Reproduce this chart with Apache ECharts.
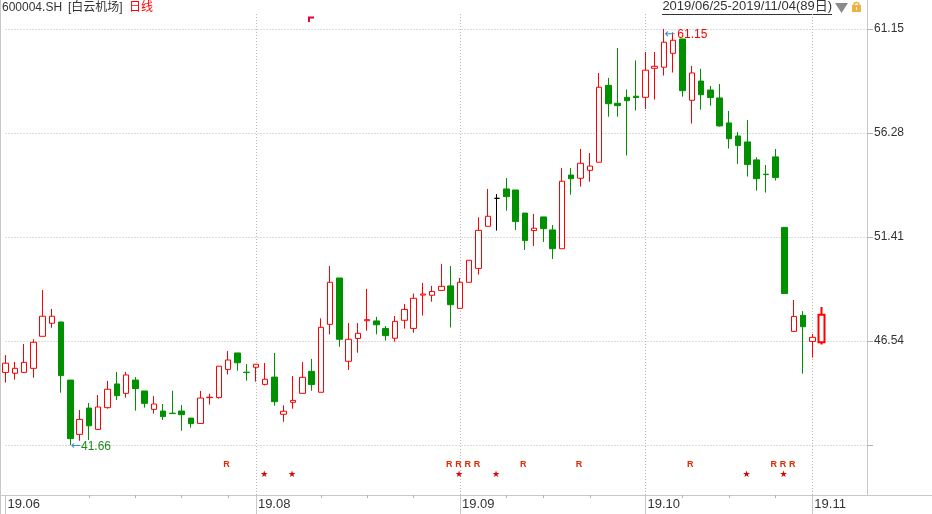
<!DOCTYPE html>
<html><head><meta charset="utf-8">
<script src="https://cdn.jsdelivr.net/npm/echarts@6/dist/echarts.min.js"></script>
<style>html,body{margin:0;padding:0;background:#fff;overflow:hidden}#c{width:932px;height:514px}</style>
</head><body><div id="c"></div>
<script>
// ---- data ----
const dates = [
 '2019-06-25','2019-06-26','2019-06-27','2019-06-28',
 '2019-07-01','2019-07-02','2019-07-03','2019-07-04','2019-07-05','2019-07-08','2019-07-09','2019-07-10','2019-07-11','2019-07-12',
 '2019-07-15','2019-07-16','2019-07-17','2019-07-18','2019-07-19','2019-07-22','2019-07-23','2019-07-24','2019-07-25','2019-07-26',
 '2019-07-29','2019-07-30','2019-07-31',
 '2019-08-01','2019-08-02','2019-08-05','2019-08-06','2019-08-07','2019-08-08','2019-08-09','2019-08-12','2019-08-13','2019-08-14',
 '2019-08-15','2019-08-16','2019-08-19','2019-08-20','2019-08-21','2019-08-22','2019-08-23','2019-08-26','2019-08-27','2019-08-28',
 '2019-08-29','2019-08-30',
 '2019-09-02','2019-09-03','2019-09-04','2019-09-05','2019-09-06','2019-09-09','2019-09-10','2019-09-11','2019-09-12','2019-09-16',
 '2019-09-17','2019-09-18','2019-09-19','2019-09-20','2019-09-23','2019-09-24','2019-09-25','2019-09-26','2019-09-27','2019-09-30',
 '2019-10-08','2019-10-09','2019-10-10','2019-10-11','2019-10-14','2019-10-15','2019-10-16','2019-10-17','2019-10-18','2019-10-21',
 '2019-10-22','2019-10-23','2019-10-24','2019-10-25','2019-10-28','2019-10-29','2019-10-30','2019-10-31',
 '2019-11-01','2019-11-04'
];
const opens = [
 45.07,45.03,45.07,45.26,46.76,47.37,47.43,44.71,42.17,43.40,
 42.40,43.42,44.53,44.09,44.71,44.20,43.34,43.26,43.16,43.26,
 42.93,42.68,43.89,43.89,45.21,45.98,45.08,45.31,44.51,44.85,
 43.11,43.67,44.09,45.12,44.14,47.32,49.49,45.59,46.66,47.49,
 47.48,47.13,46.67,47.51,47.13,48.69,48.68,48.91,49.12,48.07,
 49.29,49.94,51.91,53.22,53.66,53.61,52.53,51.71,52.35,51.74,
 50.86,54.31,54.16,54.53,54.91,58.51,57.67,57.95,58.00,57.95,
 59.31,59.36,60.01,60.68,57.81,58.71,58.29,57.92,56.75,56.14,
 55.86,55.02,54.35,55.16,51.86,46.99,47.74,46.52,46.48
];
const closes = [
 45.50,45.26,45.54,46.48,47.70,47.70,44.92,41.97,42.87,42.57,
 43.45,44.28,43.98,44.95,44.31,43.62,43.59,43.00,43.14,43.09,
 42.67,43.87,43.91,45.36,45.65,45.52,45.06,45.45,44.75,43.70,
 43.25,43.76,44.84,44.50,47.18,49.29,46.62,46.62,46.90,47.54,
 47.30,46.79,47.46,48.02,48.54,48.74,48.86,49.10,48.24,49.29,
 50.32,51.72,52.38,53.22,53.30,52.13,51.24,51.82,51.80,50.86,
 54.02,54.14,54.86,54.73,58.42,57.65,57.56,57.79,57.94,59.22,
 59.40,60.53,60.62,58.26,59.09,58.07,57.94,56.61,56.01,55.69,
 54.80,54.14,54.33,54.19,48.76,47.69,47.21,46.71,47.77
];
const lows = [
 44.59,44.73,45.07,44.82,46.76,47.16,44.12,41.66,41.87,41.90,
 42.40,43.37,43.78,43.89,43.28,43.42,43.14,42.84,43.14,42.34,
 42.48,42.68,43.56,43.84,44.97,45.15,44.68,44.64,44.46,43.51,
 42.76,43.37,44.09,44.21,44.14,46.85,46.27,45.18,45.99,47.02,
 46.85,46.56,46.51,47.12,46.93,47.73,48.38,48.91,47.17,48.07,
 49.29,49.65,51.91,51.71,52.64,51.74,50.80,50.99,51.18,50.38,
 50.86,53.39,53.77,54.00,54.91,57.04,57.04,55.22,57.33,57.40,
 57.84,58.97,59.11,57.98,56.72,57.37,57.56,56.58,55.55,54.83,
 54.24,53.58,53.49,54.05,48.76,46.99,45.01,45.76,46.38
];
const highs = [
 45.88,45.56,46.40,46.62,48.93,48.04,47.43,44.71,43.31,43.64,
 44.01,44.67,45.09,45.09,44.85,44.20,43.96,43.59,44.21,43.54,
 42.93,44.20,44.07,45.36,46.07,45.98,45.46,45.45,45.51,45.98,
 43.53,44.90,45.56,45.70,47.60,50.05,49.49,47.38,47.38,48.98,
 47.67,47.24,47.71,48.27,48.76,49.26,49.12,50.15,50.05,49.49,
 50.32,52.33,53.66,53.42,54.17,53.61,52.53,52.49,52.35,51.97,
 54.64,54.64,55.53,55.34,59.09,58.86,60.26,58.32,59.68,60.07,
 60.07,61.15,60.99,60.68,59.42,59.28,58.48,58.57,57.31,56.33,
 56.89,55.14,54.78,55.53,51.86,48.46,47.94,46.87,48.13
];
const xTickLabels = ['19.06','19.08','19.09','19.10','19.11'];
const yTickValues = [41.67, 46.54, 51.41, 56.28, 61.15];
const yLabelValues = [46.54, 51.41, 56.28, 61.15];
const yMin = 39.33, yMax = 61.85;
const rMarkIdx = [24, 48, 49, 50, 51, 56, 62, 74, 83, 84, 85];
const starMarkIdx = [28, 31, 49, 53, 80, 84];
const maxMark = { idx: 71, value: 61.15 };
const minMark = { idx: 7, value: 41.66 };
const padSlots = 5;

// ---- derived ----
const cats = dates.concat(new Array(padSlots).fill(''));
const monthStarts = [];
dates.forEach((d, i) => { if (i === 0 || d.slice(0, 7) !== dates[i - 1].slice(0, 7)) monthStarts.push(i); });
const labelIdx = {};
xTickLabels.forEach(l => {
  const key = '20' + l.slice(0, 2) + '-' + l.slice(3, 5);
  const i = dates.findIndex(d => d.slice(0, 7) === key);
  if (i >= 0) labelIdx[i] = l;
});
const weekTick = {};
dates.forEach((d, i) => {
  const dow = new Date(d + 'T00:00:00Z').getUTCDay();
  if (dow === 1 && !monthStarts.some(m => Math.abs(m - i) <= 2)) weekTick[i] = true;
});

const UP = '#ff0000', DOWN = '#009000';
const candleData = opens.map((o, i) => {
  const item = { value: [o, closes[i], lows[i], highs[i]] };
  if (o === closes[i]) item.itemStyle = { color: '#000', color0: '#000', borderColor: '#000', borderColor0: '#000' };
  if (i === opens.length - 1) item.itemStyle = Object.assign({}, item.itemStyle || {}, { borderWidth: 2 });
  return item;
});

const FONT = '"Liberation Sans","Noto Sans CJK SC",sans-serif';
const GRID_LEFT = 5.5, GRID_RIGHT = 64;

const chart = echarts.init(document.getElementById('c'), null, { renderer: 'canvas' });
chart.setOption({
  animation: false,
  backgroundColor: '#fff',
  textStyle: { fontFamily: FONT },
  grid: [
    { left: GRID_LEFT, right: GRID_RIGHT, top: 14, bottom: 19 },
    { left: GRID_LEFT, right: GRID_RIGHT, top: 460, height: 20 }
  ],
  xAxis: [
    {
      type: 'category', gridIndex: 0, data: cats, boundaryGap: false, position: 'bottom',
      axisLine: { show: false },
      axisTick: { show: true, length: 19, lineStyle: { color: '#c8c8c8' }, interval: (i) => labelIdx[i] !== undefined },
      axisLabel: {
        show: true, interval: (i) => labelIdx[i] !== undefined, formatter: (v, i) => labelIdx[i] || '',
        align: 'left', padding: [0, 0, 0, 2], margin: 3, fontSize: 13, color: '#333', fontFamily: FONT
      },
      splitLine: { show: true, interval: (i) => labelIdx[i] !== undefined && i !== 0, lineStyle: { color: '#b8b8b8', type: [1, 2] } }
    },
    {
      type: 'category', gridIndex: 0, data: cats, boundaryGap: false, position: 'bottom',
      axisLine: { show: false }, axisLabel: { show: false }, splitLine: { show: false },
      axisTick: { show: true, length: 3, lineStyle: { color: '#b0b0b0' }, interval: (i) => !!weekTick[i] }
    },
    {
      type: 'category', gridIndex: 1, data: cats, boundaryGap: false, show: false
    }
  ],
  yAxis: [
    {
      type: 'value', gridIndex: 0, position: 'right', min: yMin, max: yMax, scale: true,
      axisLine: { show: false },
      axisTick: { show: true, length: 5, customValues: yTickValues, lineStyle: { color: '#b0b0b0' } },
      axisLabel: { show: true, customValues: yLabelValues, margin: 6, fontSize: 12, color: '#333', fontFamily: FONT,
        formatter: v => v.toFixed(2) },
      splitLine: { show: true, lineStyle: { color: '#b8b8b8', type: [1, 2] } }
    },
    { type: 'category', gridIndex: 1, data: ['star', 'R'], show: false, boundaryGap: true }
  ],
  series: [
    {
      type: 'candlestick', xAxisIndex: 0, yAxisIndex: 0, barWidth: 6, clip: false,
      data: candleData,
      itemStyle: { color: '#fff', color0: DOWN, borderColor: UP, borderColor0: DOWN, borderWidth: 1 },
      markPoint: {
        symbol: 'circle', symbolSize: 1, itemStyle: { color: 'rgba(0,0,0,0)' }, silent: true,
        label: { show: true, position: 'right', distance: 0, fontSize: 12, fontFamily: FONT },
        data: [
          { coord: [maxMark.idx, maxMark.value],
            label: { offset: [0, 6], formatter: '{a|←}{b|' + maxMark.value.toFixed(2) + '}',
              rich: { a: { color: '#3b8fd0', fontSize: 13, fontFamily: '"DejaVu Sans"', padding: [0, 2, 0, 0] }, b: { color: '#ff0000', fontSize: 12, fontFamily: FONT } } } },
          { coord: [minMark.idx, minMark.value],
            label: { offset: [0, 1], formatter: '{a|←}{b|' + minMark.value.toFixed(2) + '}',
              rich: { a: { color: '#3b8fd0', fontSize: 12, fontFamily: '"DejaVu Sans"' }, b: { color: '#1f8a1f', fontSize: 12, fontFamily: FONT } } } }
        ]
      }
    },
    {
      type: 'custom', xAxisIndex: 2, yAxisIndex: 1, silent: true,
      data: rMarkIdx.map(i => [i, 1]),
      renderItem: (params, api) => {
        const p = api.coord([api.value(0), api.value(1)]);
        return { type: 'text', x: p[0] - 1.5, y: p[1],
          style: { text: 'R', fill: '#e02a00', font: 'bold 9px "Liberation Sans"', align: 'center', verticalAlign: 'middle' } };
      }
    },
    {
      type: 'custom', xAxisIndex: 2, yAxisIndex: 1, silent: true,
      data: starMarkIdx.map(i => [i, 0]),
      renderItem: (params, api) => {
        const p = api.coord([api.value(0), api.value(1)]);
        return { type: 'text', x: p[0] - 1, y: p[1],
          style: { text: '★', fill: '#e00000', font: '9px "DejaVu Sans"', align: 'center', verticalAlign: 'middle' } };
      }
    }
  ],
  graphic: [
    { type: 'line', silent: true, shape: { x1: 0.5, y1: 0, x2: 0.5, y2: 514 }, style: { stroke: '#c8c8c8', lineWidth: 1 } },
    { type: 'line', silent: true, shape: { x1: 0, y1: 495.5, x2: 932, y2: 495.5 }, style: { stroke: '#c8c8c8', lineWidth: 1 } },
    { type: 'line', silent: true, shape: { x1: 867.5, y1: 0, x2: 867.5, y2: 495.5 }, style: { stroke: '#c8c8c8', lineWidth: 1 } },
    { type: 'text', left: 2, top: 2, style: { text: '600004.SH', fill: '#333', font: '12px ' + FONT } },
    { type: 'text', left: 68, top: 2, style: { text: '[白云机场]', fill: '#333', font: '12px ' + FONT } },
    { type: 'text', left: 129, top: 2, style: { text: '日线', fill: '#ff0000', font: '12px ' + FONT } },
    { type: 'text', right: 100, top: 0, style: { text: '2019/06/25-2019/11/04(89日)', fill: '#333', font: '13px ' + FONT } },
    { type: 'line', silent: true, shape: { x1: 662, y1: 14.5, x2: 832, y2: 14.5 }, style: { stroke: '#333', lineWidth: 1 } },
    { type: 'polygon', silent: true, shape: { points: [[835, 3], [848, 3], [841.5, 13]] }, style: { fill: '#8a8a8a' } },
    { type: 'arc', silent: true, shape: { cx: 856.5, cy: 5, r: 2.5, startAngle: Math.PI, endAngle: 2 * Math.PI }, style: { stroke: '#f0b040', lineWidth: 1.5, fill: 'none' } },
    { type: 'rect', silent: true, shape: { x: 852, y: 5, width: 9, height: 7 }, style: { fill: '#f0b040' } },
    { type: 'rect', silent: true, shape: { x: 856, y: 7, width: 1, height: 3 }, style: { fill: '#fff' } },
    { type: 'polyline', silent: true, shape: { points: [[309, 22], [309, 17.5], [314, 17.5]] }, style: { stroke: '#e8003a', lineWidth: 2, fill: 'none' } }
  ]
});
</script>
</body></html>
